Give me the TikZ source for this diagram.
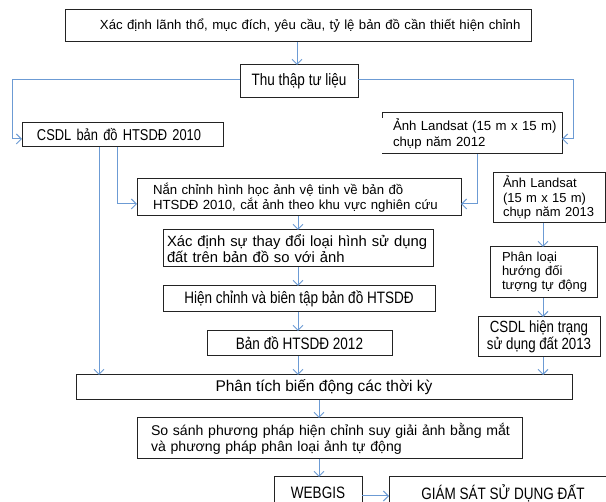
\documentclass[tikz,border=0pt]{standalone}
\usepackage{fontspec}
\setmainfont{Liberation Sans}
\newfontfamily\narrowf[FakeStretch=0.82]{Liberation Sans}
\usetikzlibrary{arrows.meta}
\definecolor{linec}{RGB}{108,155,212}
\definecolor{boxc}{RGB}{35,35,35}
\newcommand{\fz}[2]{\fontsize{#1}{#2}\selectfont}
\newcommand{\ind}[1]{\hspace*{#1pt}}
\begin{document}
\begin{tikzpicture}[x=1pt,y=-1pt,
  bx/.style={draw=boxc, line width=1pt, inner xsep=0pt, inner ysep=0pt, outer sep=0pt},
  brd/.style={draw=boxc, line width=1pt},
  lt/.style={align=left, text width=#1, minimum width=#1},
  ct/.style={align=center, minimum width=#1},
  nar/.style={font=\narrowf\fz{16.5}{17}},
  conn/.style={draw=linec, line width=1pt, -{Straight Barb[length=5pt,width=10pt]}}]
\useasboundingbox (0,0) rectangle (606,502);
\fill[white] (0,0) rectangle (606,502);

\node[bx, lt=466pt, minimum height=32pt, font=\fz{13.2}{16}] (top) at (298,26)
  {\ind{35}Xác định lãnh thổ, mục đích, yêu cầu, tỷ lệ bản đồ cần thiết hiện chỉnh};
\node[bx, ct=118pt, minimum height=33pt, nar] (thu) at (299,81.5) {Thu thập tư liệu};
\node[bx, lt=201pt, minimum height=24pt, font=\narrowf\fz{15.7}{17}] (csdl) at (122.5,135)
  {\ind{15}CSDL bản đồ HTSDĐ 2010};
\node[bx, draw=none, lt=180pt, minimum height=41pt, font=\fz{13.2}{16}] (ls12) at (472,133.5)
  {\ind{11}Ảnh Landsat (15 m x 15 m)\\\ind{11}chụp năm 2012};
\node[bx, lt=324pt, minimum height=37pt, font=\fz{13.2}{15}] (nan) at (299,197.5)
  {\ind{16}Nắn chỉnh hình học ảnh vệ tinh về bản đồ\\\ind{16}HTSDĐ 2010, cắt ảnh theo khu vực nghiên cứu};
\node[bx, lt=112pt, minimum height=50pt, font=\fz{13}{14.5}] (ls13) at (549,198)
  {\ind{10}Ảnh Landsat\\\ind{10}(15 m x 15 m)\\\ind{10}chụp năm 2013};
\node[bx, lt=270pt, minimum height=37pt, font=\fz{14.8}{15.5}] (xd) at (298,248.5)
  {\ind{4}Xác định sự thay đổi loại hình sử dụng\\\ind{4}đất trên bản đồ so với ảnh};
\node[bx, ct=272pt, minimum height=26pt, nar] (hc) at (299,299) {Hiện chỉnh và biên tập bản đồ HTSDĐ};
\node[bx, ct=185pt, minimum height=25pt, nar] (bd12) at (299.5,343.5) {Bản đồ HTSDĐ 2012};
\node[bx, lt=107pt, minimum height=51pt, font=\fz{13}{14}] (pl) at (543.5,272.5)
  {\ind{12}Phân loại\\\ind{12}hướng đối\\\ind{12}tượng tự động};
\node[bx, ct=122pt, minimum height=40pt, font=\narrowf\fz{16.2}{17}] (csht) at (539,337) {CSDL hiện trạng\\sử dụng đất 2013};
\node[bx, ct=496pt, minimum height=25pt, font=\fz{15.5}{16}] (pt) at (324,387.5) {Phân tích biến động các thời kỳ};
\node[bx, lt=385pt, minimum height=41pt, font=\fz{14.1}{16}] (ss) at (329.5,438.5)
  {\ind{14}So sánh phương pháp hiện chỉnh suy giải ảnh bằng mắt\\\ind{14}và phương pháp phân loại ảnh tự động};
\node[bx, ct=88pt, minimum height=32pt, nar] (web) at (318,493) {WEBGIS};
\node[bx, ct=228pt, minimum height=32pt, nar] (gs) at (503,493) {GIÁM SÁT SỬ DỤNG ĐẤT};

% partial border of the 2012 Landsat box
\draw[brd] ([yshift=-5pt]ls12.north west) -- (ls12.north west) -- (ls12.north east)
  -- (ls12.south east) -- (ls12.south west);

% connectors
\draw[conn] (top.south -| 297,0) -- (thu.north -| 297,0);
\draw[conn] (thu.west |- 0,80) -| (12,139) -- (csdl.west |- 0,139);
\draw[conn] (thu.east |- 0,80) -| (573,139) -- (ls12.east |- 0,139);
\draw[conn] (csdl.south -| 117,0) |- (nan.west |- 0,204);
\draw[conn] (csdl.south -| 99,0) -- (pt.north -| 99,0);
\draw[conn] (ls12.south -| 477,0) |- (nan.east |- 0,204);
\draw[conn] (nan.south -| 298,0) -- (xd.north -| 298,0);
\draw[conn] (xd.south -| 298,0) -- (hc.north -| 298,0);
\draw[conn] (hc.south -| 298,0) -- (bd12.north -| 298,0);
\draw[conn] (bd12.south -| 298,0) -- (pt.north -| 298,0);
\draw[conn] (ls13.south -| 543,0) -- (pl.north -| 543,0);
\draw[conn] (pl.south -| 543,0) -- (csht.north -| 543,0);
\draw[conn] (csht.south -| 543,0) -- (pt.north -| 543,0);
\draw[conn] (pt.south -| 319,0) -- (ss.north -| 319,0);
\draw[conn] (ss.south -| 319,0) -- (web.north -| 319,0);
\draw[conn] (web.east |- 0,496) -- (gs.west |- 0,496);
\end{tikzpicture}
\end{document}
